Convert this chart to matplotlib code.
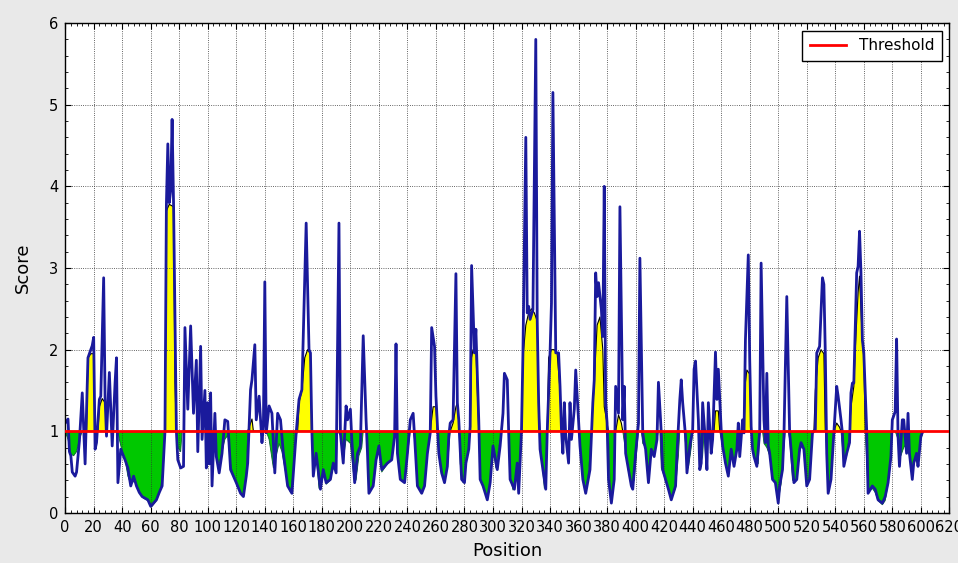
import numpy as np
import matplotlib
matplotlib.use("Agg")
import matplotlib.pyplot as plt
from matplotlib.ticker import MultipleLocator

# raw score along the sequence (blue line)
score_pos = [0, 2, 3, 4, 5, 7, 8, 10, 12, 14, 16, 18, 19, 20, 21, 22, 24, 25, 27, 28, 29, 31, 33, 35, 36, 37, 39,
             42, 44, 46, 48, 50, 52, 54, 56, 58, 60, 62, 64, 66, 68, 70, 71, 72, 73, 74, 75, 76, 78, 79, 81, 83,
             84, 86, 88, 90, 92, 93, 95, 96, 98, 99, 100, 101, 102, 103, 105, 106, 108, 110, 112, 114, 116, 118,
             120, 123, 125, 127, 128, 130, 131, 133, 134, 136, 138, 139, 140, 141, 143, 145, 147, 149, 151, 153,
             156, 159, 161, 162, 164, 166, 169, 171, 172, 173, 174, 176, 179, 181, 183, 186, 188, 190, 192, 193,
             195, 197, 198, 200, 201, 203, 205, 207, 209, 211, 212, 213, 216, 218, 220, 222, 224, 226, 229, 231,
             232, 233, 235, 238, 240, 242, 244, 245, 247, 250, 252, 254, 256, 257, 259, 260, 262, 264, 266, 268,
             269, 270, 272, 274, 275, 276, 278, 280, 281, 283, 284, 285, 287, 288, 290, 291, 293, 296, 298, 300,
             303, 305, 307, 308, 310, 311, 312, 315, 317, 318, 320, 321, 323, 324, 325, 326, 328, 330, 331, 332,
             333, 335, 337, 338, 340, 341, 342, 344, 346, 347, 348, 349, 350, 351, 353, 354, 355, 357, 358, 360,
             361, 363, 365, 368, 370, 371, 372, 373, 374, 376, 377, 378, 379, 380, 381, 383, 385, 386, 388, 389,
             391, 392, 393, 395, 397, 398, 400, 402, 403, 405, 406, 407, 409, 411, 413, 415, 416, 418, 419, 421,
             423, 425, 428, 429, 431, 432, 433, 435, 436, 438, 440, 441, 442, 444, 445, 446, 447, 449, 450, 451,
             453, 454, 456, 457, 458, 460, 461, 463, 465, 467, 469, 471, 472, 473, 475, 476, 477, 479, 480, 481,
             482, 483, 485, 487, 488, 490, 491, 492, 493, 494, 496, 498, 500, 501, 503, 504, 506, 508, 509, 511,
             513, 515, 516, 518, 520, 522, 524, 526, 527, 529, 531, 532, 533, 534, 535, 537, 539, 541, 542, 544,
             545, 546, 548, 550, 551, 552, 553, 555, 556, 557, 558, 559, 560, 562, 563, 566, 568, 570, 573, 575,
             577, 579, 580, 582, 583, 584, 585, 587, 588, 590, 591, 592, 594, 595, 597, 598, 600, 601]
score_val = [1.1, 1.15, 0.75, 0.7, 0.5, 0.45, 0.5, 0.88, 1.47, 0.6, 1.9, 2.0, 2.05, 2.15, 0.78, 0.86, 1.39, 1.43,
             2.88, 1.41, 0.94, 1.72, 0.82, 1.59, 1.9, 0.37, 0.78,
             0.65, 0.55, 0.33, 0.45, 0.33, 0.25, 0.2, 0.18, 0.16, 0.08, 0.12, 0.16, 0.25, 0.33, 1.0, 3.78, 4.52,
             3.8, 3.95, 4.82, 3.8, 1.0, 0.65, 0.55, 0.57,
             2.27, 1.27, 2.29, 1.22, 1.87, 0.75, 2.04, 0.9, 1.5, 0.55, 1.35, 0.6, 1.47, 0.33, 1.22, 0.69, 0.49,
             0.73, 1.14, 1.12, 0.53, 0.45,
             0.37, 0.24, 0.2, 0.45, 0.61, 1.51, 1.63, 2.06, 1.14, 1.43, 0.86, 1.06, 2.83, 0.98, 1.31, 1.22, 0.49,
             1.22, 1.14, 0.73,
             0.33, 0.24, 0.73, 0.98, 1.39, 1.51, 3.55, 2.0, 1.96, 1.0, 0.45, 0.73, 0.29, 0.53, 0.37, 0.41, 0.61,
             0.49, 3.55, 0.98,
             0.61, 1.31, 1.14, 1.27, 0.9, 0.37, 0.73, 0.82, 2.17, 1.14, 0.73, 0.24, 0.33, 0.65, 0.82, 0.53, 0.57,
             0.61, 0.65, 0.94,
             2.07, 0.73, 0.41, 0.37, 0.73, 1.14, 1.22, 0.94, 0.33, 0.24, 0.33, 0.73, 0.98, 2.27, 2.04, 1.43, 0.73,
             0.49, 0.37, 0.57,
             0.94, 1.1, 1.14, 2.93, 1.35, 1.14, 0.41, 0.37, 0.61, 0.78, 1.06, 3.03, 1.96, 2.25, 1.14, 0.41, 0.33,
             0.16, 0.37, 0.82,
             0.53, 0.82, 1.22, 1.71, 1.63, 0.98, 0.41, 0.29, 0.61, 0.24, 1.02, 1.96, 4.6, 2.45, 2.53, 2.37, 2.49,
             5.8, 2.37, 1.35,
             0.78, 0.53, 0.29, 0.98, 1.96, 2.57, 5.15, 1.96, 1.96, 1.55, 1.02, 0.73, 1.35, 0.94, 0.61, 1.35, 0.9,
             1.27, 1.75, 1.14,
             0.82, 0.41, 0.24, 0.53, 1.35, 1.63, 2.94, 2.65, 2.82, 2.49, 2.16, 4.0, 1.35, 1.1, 0.41, 0.12, 0.41,
             1.55, 1.22, 3.75,
             1.14, 1.55, 0.73, 0.53, 0.33, 0.29, 0.73, 1.1, 3.12, 0.98, 0.86, 0.78, 0.37, 0.78, 0.69, 0.9, 1.6,
             0.98, 0.53, 0.41,
             0.29, 0.16, 0.33, 0.73, 1.39, 1.63, 1.35, 0.94, 0.49, 0.82, 1.02, 1.76, 1.86, 1.14, 0.53, 0.61, 1.35,
             0.86, 0.53, 1.35,
             0.73, 0.9, 1.97, 1.39, 1.76, 1.02, 0.82, 0.61, 0.45, 0.78, 0.57, 0.78, 1.1, 0.69, 1.14, 0.98, 2.12,
             3.16, 1.88, 1.06,
             0.78, 0.69, 0.57, 1.0, 3.06, 1.14, 0.86, 1.71, 0.82, 0.73, 0.41, 0.37, 0.12, 0.33, 0.53, 0.94, 2.65,
             0.98, 0.78, 0.37,
             0.41, 0.78, 0.86, 0.78, 0.33, 0.41, 0.98, 1.02, 1.96, 2.04, 2.88, 2.8, 1.96, 0.73, 0.24, 0.41, 0.98,
             1.55, 1.43, 1.14,
             0.98, 0.57, 0.73, 0.86, 1.47, 1.59, 1.59, 2.94, 3.02, 3.45, 2.94, 2.12, 1.96, 1.02, 0.24, 0.33, 0.29,
             0.16, 0.12, 0.2,
             0.37, 0.69, 1.14, 1.24, 2.13, 0.94, 0.57, 1.14, 1.14, 0.73, 1.22, 0.73, 0.41, 0.61, 0.73, 0.57, 0.94,
             0.98]

# smoothed score used for the coloured areas
fill_pos = [0, 2, 4, 6, 8, 10, 12, 15, 16, 18, 20, 21, 23, 24, 26, 28, 29, 37, 38, 40, 42, 44, 46, 49, 52, 55,
            58, 61, 64, 67, 69, 70, 71, 73, 76, 77, 78, 79, 81, 82, 103, 105, 108, 110, 112, 114, 116, 118, 120,
            123, 125, 127, 128, 131, 132, 141, 143, 146, 148, 150, 152, 154, 156, 158, 160, 162, 163, 164, 166,
            168, 170, 172, 173, 174, 176, 178, 181, 183, 186, 188, 190, 191, 193, 195, 197, 200, 202, 204, 206,
            208, 209, 212, 213, 215, 218, 220, 222, 224, 226, 229, 231, 232, 233, 235, 238, 240, 242, 244, 245,
            247, 250, 252, 254, 256, 258, 260, 261, 262, 264, 266, 268, 270, 272, 274, 275, 276, 277, 279, 281,
            283, 284, 285, 286, 288, 289, 290, 291, 293, 296, 298, 300, 302, 304, 306, 311, 312, 314, 317, 319,
            320, 321, 323, 325, 327, 329, 331, 332, 333, 334, 336, 338, 339, 341, 343, 345, 347, 348, 360, 361,
            363, 365, 367, 369, 371, 373, 375, 377, 378, 380, 381, 382, 383, 385, 386, 388, 390, 391, 393, 395,
            397, 399, 401, 402, 404, 405, 407, 409, 411, 413, 415, 416, 417, 418, 421, 423, 425, 428, 430, 431,
            434, 435, 437, 439, 440, 444, 445, 447, 448, 449, 450, 451, 455, 456, 458, 459, 461, 463, 465, 467,
            469, 471, 473, 474, 476, 477, 478, 480, 481, 482, 484, 486, 487, 489, 490, 492, 494, 496, 498, 500,
            502, 504, 505, 507, 508, 510, 513, 515, 517, 519, 520, 522, 524, 525, 526, 528, 530, 532, 533, 534,
            535, 537, 539, 541, 543, 544, 546, 548, 550, 551, 553, 554, 556, 557, 559, 560, 561, 563, 566, 568,
            570, 573, 575, 577, 579, 580, 582, 584, 586, 588, 590, 592, 594, 596, 598, 600, 601]
fill_val = [1.0, 0.9, 0.72, 0.7, 0.75, 0.9, 1.0, 1.0, 1.9, 1.95, 1.95, 1.0, 1.0, 1.3, 1.4, 1.35, 1.0, 1.0, 0.9,
            0.75, 0.65, 0.45, 0.35, 0.4, 0.25, 0.18,
            0.15, 0.08, 0.15, 0.3, 0.6, 1.0, 3.7, 3.78, 3.75, 1.6, 1.0, 0.8, 0.75, 1.0, 1.0, 0.75, 0.6, 0.75, 0.9,
            0.95, 0.6, 0.45, 0.37,
            0.25, 0.2, 0.5, 1.0, 1.15, 1.0, 1.0, 0.9, 0.55, 0.7, 0.85, 0.75, 0.55, 0.35, 0.25, 0.5, 0.95, 1.0,
            1.35, 1.5,
            1.9, 2.0, 1.95, 1.0, 0.45, 0.7, 0.3, 0.5, 0.35, 0.4, 0.6, 0.5, 1.0, 0.95, 0.65, 0.9, 0.85, 0.5, 0.4,
            0.7,
            0.8, 1.0, 1.0, 0.3, 0.3, 0.62, 0.8, 0.5, 0.55, 0.6, 0.65, 0.9, 1.0, 0.75, 0.42, 0.37, 0.7, 1.0, 1.0,
            0.9,
            0.33, 0.24, 0.33, 0.7, 1.0, 1.3, 1.3, 1.0, 0.75, 0.5, 0.4, 0.55, 1.0, 1.1, 1.3, 1.35, 1.1, 0.6, 0.37,
            0.6,
            0.8, 1.0, 1.9, 2.0, 2.0, 1.5, 1.0, 0.42, 0.33, 0.16, 0.37, 0.8, 0.55, 0.8, 1.0, 1.0, 0.45, 0.28, 0.45,
            0.6,
            1.0, 1.9, 2.3, 2.45, 2.5, 2.45, 2.35, 1.35, 1.0, 0.7, 0.3, 1.0, 1.9, 2.0, 2.0, 1.95, 1.5, 1.0, 1.0,
            0.85,
            0.42, 0.25, 0.5, 1.0, 1.6, 2.3, 2.4, 2.0, 1.3, 1.1, 1.0, 0.4, 0.15, 0.4, 1.0, 1.2, 1.1, 1.0, 0.75,
            0.5,
            0.33, 0.4, 0.8, 1.0, 1.0, 0.85, 0.8, 0.4, 0.75, 0.7, 0.9, 1.0, 1.0, 0.55, 0.4, 0.28, 0.18, 0.3, 0.7,
            1.0,
            1.0, 0.85, 0.55, 0.8, 1.0, 1.0, 0.55, 0.7, 1.0, 0.7, 0.55, 1.0, 1.0, 1.25, 1.25, 1.0, 0.8, 0.6, 0.45,
            0.75,
            0.6, 0.8, 0.75, 1.0, 1.0, 1.6, 1.75, 1.7, 1.0, 0.78, 0.65, 0.6, 1.0, 1.0, 0.85, 0.8, 0.7, 0.45, 0.35,
            0.15,
            0.35, 0.8, 1.0, 1.0, 0.9, 0.4, 0.4, 0.75, 0.85, 0.7, 0.35, 0.45, 1.0, 1.0, 1.5, 1.9, 2.0, 1.95, 1.0,
            0.7,
            0.25, 0.4, 1.0, 1.1, 1.05, 1.0, 0.6, 0.7, 1.0, 1.3, 1.55, 2.0, 2.7, 2.9, 2.1, 1.9, 1.0, 0.25, 0.3,
            0.25,
            0.15, 0.1, 0.15, 0.35, 0.65, 1.0, 1.0, 0.9, 0.7, 0.8, 0.85, 0.7, 0.55, 0.65, 0.6, 0.9, 0.95]

threshold = 1.0

x = np.array(score_pos)
y = np.array(score_val)
fx = np.array(fill_pos)
fy = np.array(fill_val)

fig = plt.figure(figsize=(9.58, 5.63), dpi=100, facecolor='#e9e9e9')
ax = fig.add_axes([0.068, 0.089, 0.923, 0.870])
ax.set_facecolor('white')

ax.fill_between(fx, fy, threshold, where=fy >= threshold, interpolate=True,
                facecolor='#ffff00', edgecolor='black', linewidth=0.8, zorder=1)
ax.fill_between(fx, fy, threshold, where=fy <= threshold, interpolate=True,
                facecolor='#00c800', edgecolor='#0a5a3a', linewidth=0.6, zorder=1)
ax.plot(x, y, color='#1a1a9c', linewidth=2.0, zorder=2)
ax.axhline(threshold, color='red', linewidth=2, label='Threshold', zorder=3)

ax.set_xlim(0, 620)
ax.set_ylim(0, 6)
ax.xaxis.set_major_locator(MultipleLocator(20))
ax.xaxis.set_minor_locator(MultipleLocator(4))
ax.yaxis.set_major_locator(MultipleLocator(1))
ax.yaxis.set_minor_locator(MultipleLocator(0.2))
ax.tick_params(which='both', direction='in', top=True, right=True, labelsize=10.5)
ax.tick_params(which='major', length=4, pad=5)
ax.tick_params(which='minor', length=2)
ax.grid(True, which='major', linestyle=':', color='#333333', linewidth=0.6)
for s in ax.spines.values():
    s.set_linewidth(1.0)

ax.set_xlabel('Position', fontsize=13, labelpad=5)
ax.set_ylabel('Score', fontsize=13, labelpad=12)

leg = ax.legend(loc='upper right', fontsize=11, fancybox=False, framealpha=1,
                borderaxespad=0.5, handlelength=2.4, borderpad=0.5)
leg.get_frame().set_edgecolor('black')
leg.get_frame().set_linewidth(1.0)

fig.savefig('out.png', dpi=100, facecolor=fig.get_facecolor())
